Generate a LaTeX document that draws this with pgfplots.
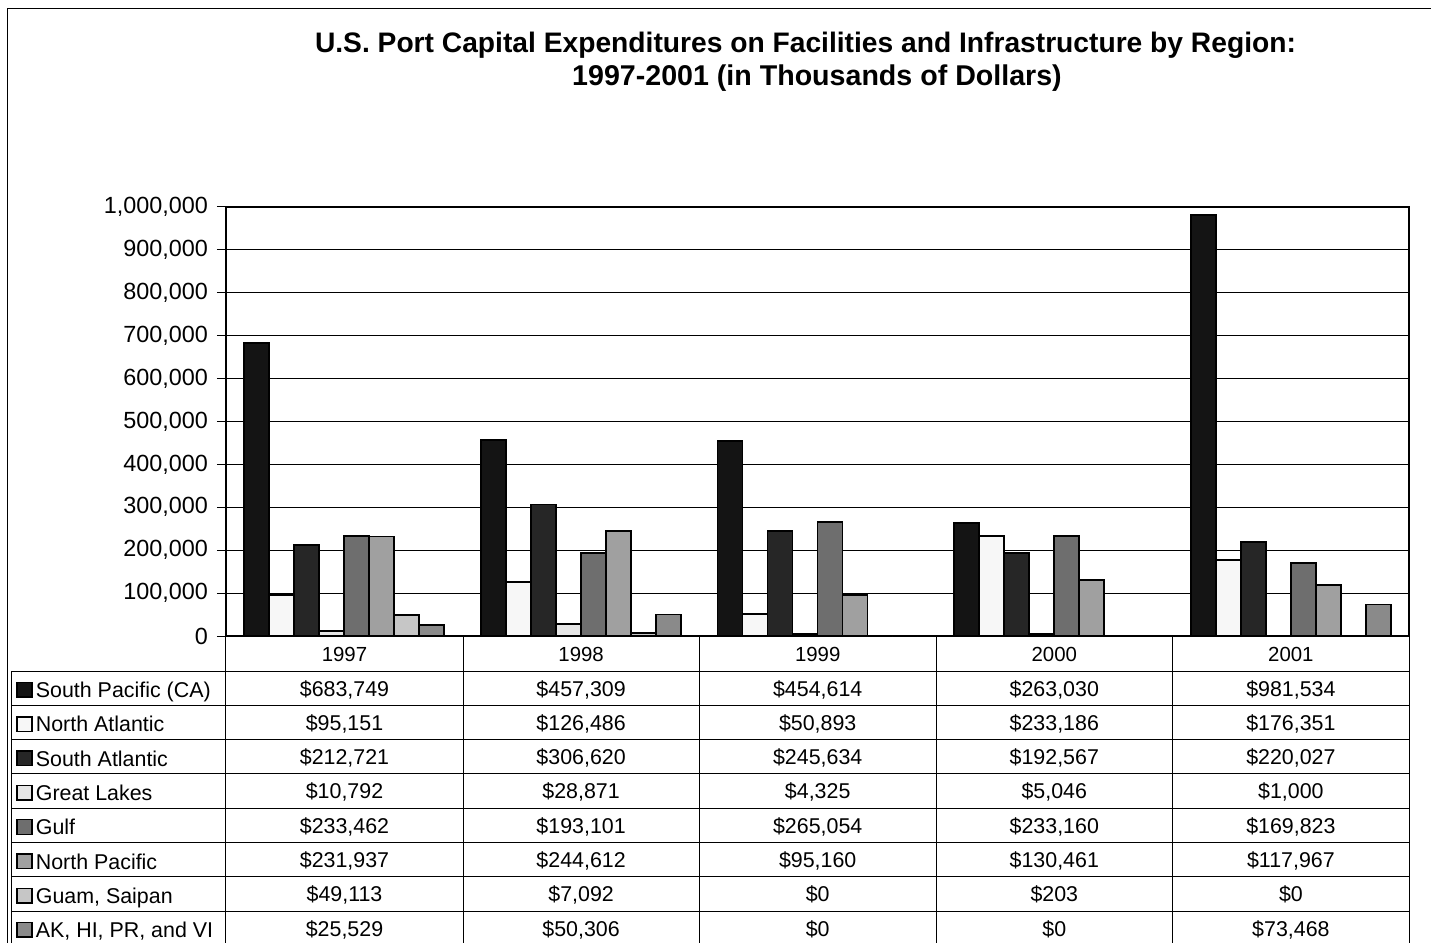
\documentclass[border=0pt]{standalone}
\usepackage{fontspec}
\setmainfont{Liberation Sans}
\usepackage{pgfplots}
\pgfplotsset{compat=1.18}
\definecolor{cSP}{HTML}{141414}
\definecolor{cNA}{HTML}{F7F7F7}
\definecolor{cSA}{HTML}{262626}
\definecolor{cGL}{HTML}{E6E6E6}
\definecolor{cGU}{HTML}{6E6E6E}
\definecolor{cNP}{HTML}{A0A0A0}
\definecolor{cGS}{HTML}{C6C6C6}
\definecolor{cAK}{HTML}{8A8A8A}
\newcommand{\lbl}{\fontsize{10.7}{12}\selectfont}
\begin{document}
\begin{tikzpicture}
\useasboundingbox (-113pt,-153.5pt) rectangle (602.5pt,318pt);
\begin{axis}[at={(0,0)}, anchor=south west, scale only axis,
  width=591.5pt, height=214.5pt,
  xmin=-0.5, xmax=4.5, ymin=0, ymax=1000000,
  ytick={0,100000,200000,300000,400000,500000,600000,700000,800000,900000,1000000},
  xtick=\empty, ytick pos=left,
  ymajorgrids, grid style={black, line width=0.5pt},
  axis line style={black, line width=0.6pt},
  tick align=outside, major tick length=4.5pt,
  ytick style={black, line width=0.5pt},
  scaled y ticks=false,
  yticklabel style={font=\fontsize{11.7}{14}\selectfont, xshift=-1pt,
    /pgf/number format/fixed, /pgf/number format/1000 sep={,},
    /pgf/number format/assume math mode=true},
  ybar=0pt, bar width=0.1056,
  every axis plot/.append style={draw=black, line width=0.9pt},
]
\addplot[fill=cSP] coordinates {(0,683749) (1,457309) (2,454614) (3,263030) (4,981534)};
\addplot[fill=cNA] coordinates {(0,95151) (1,126486) (2,50893) (3,233186) (4,176351)};
\addplot[fill=cSA] coordinates {(0,212721) (1,306620) (2,245634) (3,192567) (4,220027)};
\addplot[fill=cGL] coordinates {(0,10792) (1,28871) (2,4325) (3,5046) (4,1000)};
\addplot[fill=cGU] coordinates {(0,233462) (1,193101) (2,265054) (3,233160) (4,169823)};
\addplot[fill=cNP] coordinates {(0,231937) (1,244612) (2,95160) (3,130461) (4,117967)};
\addplot[fill=cGS] coordinates {(0,49113) (1,7092) (2,0) (3,203) (4,0)};
\addplot[fill=cAK] coordinates {(0,25529) (1,50306) (2,0) (3,0) (4,73468)};
\end{axis}
\begin{scope}[shift={(-113pt,318pt)}, x=0.5pt, y=-0.5pt]
  % outer border
  \draw[line width=0.7pt] (7.5,960) -- (7.5,8.5) -- (1445,8.5);
  % title
  \node[anchor=base, inner sep=0, font=\bfseries\fontsize{14.1}{17}\selectfont] at (805.5,53) {U.S. Port Capital Expenditures on Facilities and Infrastructure by Region:};
  \node[anchor=base, inner sep=0, font=\bfseries\fontsize{14.3}{17}\selectfont] at (817,86) {1997-2001 (in Thousands of Dollars)};
  % table lines
  \foreach \yy in {671,705.3,739.6,773.9,808.2,842.5,876.8,911.1}
    \draw[line width=0.5pt] (12,\yy) -- (1409,\yy);
  \draw[line width=0.5pt] (12,671) -- (12,960);
  \foreach \xx in {226,463,699,936,1172,1409}
    \draw[line width=0.5pt] (\xx,636) -- (\xx,960);
  % header years
  \foreach \yr [count=\j from 0] in {1997,1998,1999,2000,2001}
    \node[anchor=base, inner sep=0, font=\fontsize{10.2}{12}\selectfont] at (344.5+236.6*\j,661) {\yr};
  % rows
  \foreach \lab/\col/\a/\b/\c/\d/\e [count=\i from 0] in {
    {South Pacific (CA)}/cSP/{\$683,749}/{\$457,309}/{\$454,614}/{\$263,030}/{\$981,534},
    {North Atlantic}/cNA/{\$95,151}/{\$126,486}/{\$50,893}/{\$233,186}/{\$176,351},
    {South Atlantic}/cSA/{\$212,721}/{\$306,620}/{\$245,634}/{\$192,567}/{\$220,027},
    {Great Lakes}/cGL/{\$10,792}/{\$28,871}/{\$4,325}/{\$5,046}/{\$1,000},
    {Gulf}/cGU/{\$233,462}/{\$193,101}/{\$265,054}/{\$233,160}/{\$169,823},
    {North Pacific}/cNP/{\$231,937}/{\$244,612}/{\$95,160}/{\$130,461}/{\$117,967},
    {Guam, Saipan}/cGS/{\$49,113}/{\$7,092}/{\$0}/{\$203}/{\$0},
    {AK, HI, PR, and VI}/cAK/{\$25,529}/{\$50,306}/{\$0}/{\$0}/{\$73,468}}
  {
    \pgfmathsetmacro\tp{671+34.3*\i}
    \filldraw[fill=\col, draw=black, line width=0.7pt] (17,\tp+11.5) rectangle (32,\tp+26);
    \node[anchor=base west, inner sep=0, font=\lbl] at (35.5,\tp+26.5) {\lab};
    \node[anchor=base, inner sep=0, font=\lbl] at (344.5,\tp+25) {\a};
    \node[anchor=base, inner sep=0, font=\lbl] at (581.1,\tp+25) {\b};
    \node[anchor=base, inner sep=0, font=\lbl] at (817.7,\tp+25) {\c};
    \node[anchor=base, inner sep=0, font=\lbl] at (1054.3,\tp+25) {\d};
    \node[anchor=base, inner sep=0, font=\lbl] at (1290.9,\tp+25) {\e};
  }
\end{scope}
\end{tikzpicture}
\end{document}
